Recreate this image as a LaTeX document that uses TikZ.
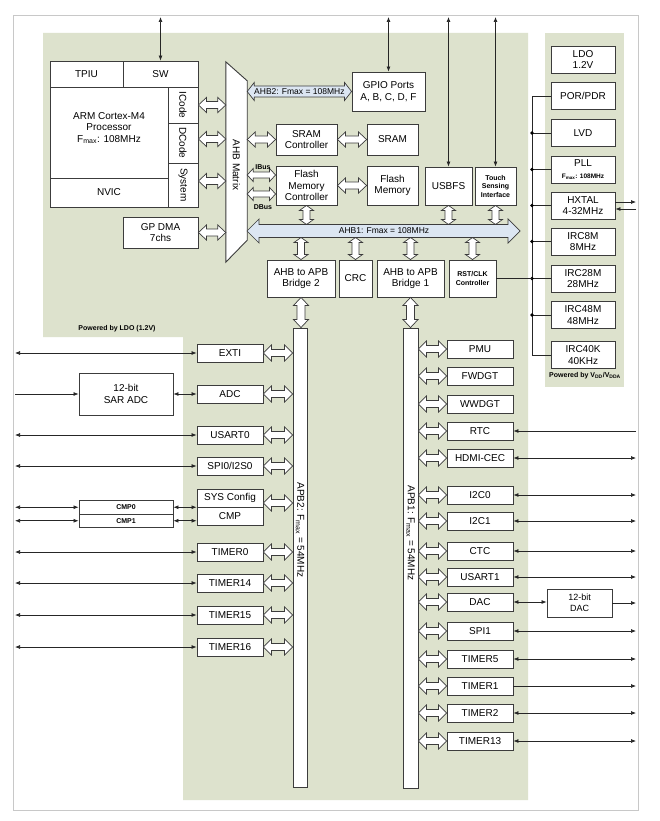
\documentclass[tikz,border=0pt]{standalone}
\usepackage{fontspec}
\setmainfont{Liberation Sans}
\usetikzlibrary{arrows.meta,calc}
\definecolor{bg}{RGB}{221,226,205}
\definecolor{busblue}{RGB}{220,230,242}
\definecolor{framegray}{RGB}{200,200,200}
\definecolor{edge}{RGB}{60,60,60}
\newcommand{\hollowH}[6][hol]{%
  \path[#1] let \p1=#2, \p2=#3 in
  (\x1,\y1) -- ({\x1+#4pt},{\y1+#5pt}) -- ({\x1+#4pt},{\y1+#6pt}) -- ({\x2-#4pt},{\y1+#6pt}) -- ({\x2-#4pt},{\y1+#5pt}) -- (\x2,\y1) -- ({\x2-#4pt},{\y1-#5pt}) -- ({\x2-#4pt},{\y1-#6pt}) -- ({\x1+#4pt},{\y1-#6pt}) -- ({\x1+#4pt},{\y1-#5pt}) -- cycle;}
\newcommand{\hollowV}[6][hol]{%
  \path[#1] let \p1=#2, \p2=#3 in
  (\x1,\y1) -- ({\x1+#5pt},{\y1-#4pt}) -- ({\x1+#6pt},{\y1-#4pt}) -- ({\x1+#6pt},{\y2+#4pt}) -- ({\x1+#5pt},{\y2+#4pt}) -- (\x1,\y2) -- ({\x1-#5pt},{\y2+#4pt}) -- ({\x1-#6pt},{\y2+#4pt}) -- ({\x1-#6pt},{\y1-#4pt}) -- ({\x1-#5pt},{\y1-#4pt}) -- cycle;}
\tikzset{
  f10/.style={font=\fontsize{10}{11.7}\selectfont},
  f9/.style={font=\fontsize{9}{10.5}\selectfont},
  f85/.style={font=\fontsize{8.5}{9.5}\selectfont},
  f75/.style={font=\fontsize{7.5}{9}\selectfont},
  fsb/.style={font=\fontsize{7}{8.5}\selectfont\bfseries},
  f7/.style={font=\fontsize{7}{8}\selectfont},
  box/.style={draw=edge, line width=0.9pt, fill=white, inner sep=0pt, align=center, f10},
  per/.style={box, minimum width=66, minimum height=18},
  cbox/.style={box, minimum width=64, minimum height=27},
  bar/.style={draw=edge, line width=0.9pt, fill=white, inner sep=0pt},
  rot/.style={rotate=-90, inner sep=0pt, f10},
  thinl/.style={draw=black!85, line width=0.7pt},
  dbl/.style={thinl, {Latex[length=5pt,width=4pt]}-{Latex[length=5pt,width=4pt]}},
  sgl/.style={thinl, -{Latex[length=5pt,width=4pt]}},
  hol/.style={draw=edge, line width=0.7pt, fill=white},
  holb/.style={draw=edge, line width=0.7pt, fill=busblue},
}
\begin{document}
\begin{tikzpicture}[x=1pt,y=-1pt]
\useasboundingbox (0,0) rectangle (659,821);
\fill[white] (0,0) rectangle (659,821);
% frame and backgrounds
\draw[framegray, line width=0.8pt] (13,15) rectangle (638,810);
\fill[bg] (43,33) -- (528,33) -- (528,800) -- (183,800) -- (183,337) -- (43,337) -- cycle;
\fill[bg] (545,33) rectangle (624,387);

% helper coordinates
\coordinate (top) at (0,17);
\coordinate (L) at (15,0);
\coordinate (R) at (636,0);
\coordinate (bus) at (532,0);
\coordinate (a1t) at (0,224.5);
\coordinate (a1b) at (0,237.5);
\coordinate (ib) at (0,175);
\coordinate (db) at (0,194);

% CPU
\node[box,minimum width=73,minimum height=26] (tpiu) at (86.5,74) {TPIU};
\node[box,minimum width=75,minimum height=26] (sw) at (160.5,74) {SW};
\node[box,minimum width=118,minimum height=91] (arm) at (109,132.5) {};
\node[f10, align=center, inner sep=0pt] (armt) at (109,128) {ARM Cortex-M4\\Processor\\F\textsubscript{max}: 108MHz};
\node[box,minimum width=118,minimum height=29] (nvic) at (109,192.5) {NVIC};
\node[box,minimum width=30,minimum height=36] (icode) at (183,105) {};
\node[box,minimum width=30,minimum height=40] (dcode) at (183,143) {};
\node[box,minimum width=30,minimum height=44] (system) at (183,185) {};
\node[rot] (icodet) at (icode) {ICode};
\node[rot] (dcodet) at (dcode) {DCode};
\node[rot] (systemt) at (system) {System};
\node[box,minimum width=75,minimum height=31] (dma) at (160.5,232.5) {GP DMA\\7chs};

% AHB matrix
\node[minimum width=21, minimum height=200, inner sep=0pt] (ahbm) at (236.5,162) {};
\draw[hol, line width=0.9pt] (ahbm.north west) -- ($(ahbm.north east)+(0,19)$) -- ($(ahbm.south east)+(0,-22)$) -- (ahbm.south west) -- cycle;
\node[rot] (ahbmt) at (236.5,165) {AHB Matrix};

\coordinate (ic) at (icode.east);
\coordinate (dc) at ([yshift=4pt]dcode.east);
\coordinate (sc) at ([yshift=4pt]system.east);
\hollowH{(ic)}{(ahbm.west |- ic)}{8}{7.5}{3.5}
\hollowH{(dc)}{(ahbm.west |- dc)}{8}{7.5}{3.5}
\hollowH{(sc)}{(ahbm.west |- sc)}{8}{7.5}{3.5}
\hollowH{(dma.east)}{(ahbm.west |- dma.east)}{8}{7.5}{3.5}

% AHB2 side
\node[box,minimum width=73,minimum height=39] (gpio) at (388.5,91.5) {GPIO Ports\\A, B, C, D, F};
\hollowH[holb]{(ahbm.east |- gpio.west)}{(gpio.west)}{7}{9}{5.5}
\node[f85, inner sep=0pt] (ahb2t) at ($(ahbm.east |- gpio.west)!0.5!(gpio.west)$) {AHB2: Fmax = 108MHz};
\node[box,minimum width=61,minimum height=31] (sramc) at (306.5,139.5) {SRAM\\Controller};
\node[box,minimum width=51,minimum height=31] (sram) at (392.5,139.5) {SRAM};
\node[box,minimum width=61,minimum height=39] (flashc) at (306.5,185.5) {Flash\\Memory\\Controller};
\node[box,minimum width=51,minimum height=39] (flash) at (392.5,185.5) {Flash\\Memory};
\node[box,minimum width=47,minimum height=38] (usb) at (448.5,186) {USBFS};
\node[box,minimum width=41,minimum height=38,fsb] (touch) at (495.5,186) {Touch\\Sensing\\Interface};
\hollowH{(ahbm.east |- sramc.west)}{(sramc.west)}{8}{7.5}{3.5}
\hollowH{(sramc.east)}{(sram.west)}{8}{7.5}{3.5}
\hollowH{(flashc.east)}{(flash.west)}{8}{7.5}{3.5}
\hollowH{(ahbm.east |- ib)}{(flashc.west |- ib)}{6}{6.5}{3}
\hollowH{(ahbm.east |- db)}{(flashc.west |- db)}{6}{6.5}{3}
\node[fsb, inner sep=0pt] (ibus) at (263,167.5) {IBus};
\node[fsb, inner sep=0pt] (dbus) at (263,207) {DBus};

\draw[dbl] (top -| sw.north) -- (sw.north);
\draw[dbl] (top -| gpio.north) -- (gpio.north);
\draw[dbl] (top -| usb.north) -- (usb.north);
\draw[dbl] (top -| touch.north) -- (touch.north);

% AHB1 bus
\node[box,minimum width=68,minimum height=37] (bridge2) at (301,278.5) {AHB to APB\\Bridge 2};
\node[box,minimum width=33,minimum height=37] (crc) at (355.5,278.5) {CRC};
\node[box,minimum width=67,minimum height=37] (bridge1) at (410.5,278.5) {AHB to APB\\Bridge 1};
\node[box,minimum width=47,minimum height=37,fsb] (rstclk) at (472.5,278.5) {RST/CLK\\Controller};
\hollowV{(flashc.south)}{(flashc.south |- a1t)}{5}{7}{3.5}
\hollowV{(usb.south)}{(usb.south |- a1t)}{5}{7}{3.5}
\hollowV{(touch.south)}{(touch.south |- a1t)}{5}{7}{3.5}
\hollowV{(bridge2.north |- a1b)}{(bridge2.north)}{5}{7}{3.5}
\hollowV{(crc.north |- a1b)}{(crc.north)}{5}{7}{3.5}
\hollowV{(bridge1.north |- a1b)}{(bridge1.north)}{5}{7}{3.5}
\hollowV{(rstclk.north |- a1b)}{(rstclk.north)}{5}{7}{3.5}
\coordinate (ahb1l) at (247,231);
\coordinate (ahb1r) at (520,231);
\hollowH[holb]{(ahb1l)}{(ahb1r)}{12}{12}{6.5}
\node[f85, inner sep=0pt] (ahb1t) at (384,231) {AHB1: Fmax = 108MHz};

% APB buses
\node[bar, minimum width=14, minimum height=459] (apb2) at (300,557.5) {};
\node[bar, minimum width=15, minimum height=460] (apb1) at (410.5,558) {};
\node[rot] (apb2t) at (300,530) {APB2: F\textsubscript{max} = 54MHz};
\node[rot] (apb1t) at (410.5,533) {APB1: F\textsubscript{max} = 54MHz};
\hollowV{(bridge2.south)}{(apb2.north)}{8}{7.5}{4}
\hollowV{(bridge1.south)}{(apb1.north)}{8}{7.5}{4}

% APB2 peripherals
\node[per] (exti) at (230,353) {EXTI};
\node[per] (adc) at (230,394) {ADC};
\node[per] (usart0) at (230,435) {USART0};
\node[per] (spi0) at (230,466) {SPI0/I2S0};
\node[per] (sysconf) at (230,498) {SYS Config};
\node[per] (cmp) at (230,516) {CMP};
\node[per] (timer0) at (230,552) {TIMER0};
\node[per] (timer14) at (230,583) {TIMER14};
\node[per] (timer15) at (230,615) {TIMER15};
\node[per] (timer16) at (230,647) {TIMER16};
\foreach \q in {exti,adc,usart0,spi0,timer0,timer14,timer15,timer16}{
  \hollowH{(\q.east)}{(apb2.west |- \q.east)}{8}{8}{3.5}
}
\coordinate (scf) at ([yshift=-5pt]sysconf.east);
\hollowH{(scf)}{(apb2.west |- scf)}{8}{8}{3.5}
\foreach \q in {exti,usart0,spi0,timer0,timer14,timer15,timer16}{
  \draw[dbl] (L |- \q.west) -- (\q.west);
}
\node[box,minimum width=94,minimum height=42] (sar) at (126,394) {12-bit\\SAR ADC};
\draw[sgl] (L |- sar.west) -- (sar.west);
\draw[dbl] (sar.east |- adc.west) -- (adc.west);
\node[box,minimum width=94,minimum height=13.5,fsb] (cmp0) at (126,507.25) {CMP0};
\node[box,minimum width=94,minimum height=13.5,fsb] (cmp1) at (126,520.75) {CMP1};
\draw[dbl] (L |- cmp0.west) -- (cmp0.west);
\draw[dbl] (L |- cmp1.west) -- (cmp1.west);
\draw[dbl] (cmp0.east) -- (cmp.west |- cmp0.east);
\draw[dbl] (cmp1.east) -- (cmp.west |- cmp1.east);

% APB1 peripherals
\node[per] (pmu) at (480,349) {PMU};
\node[per] (fwdgt) at (480,376) {FWDGT};
\node[per] (wwdgt) at (480,404) {WWDGT};
\node[per] (rtc) at (480,431) {RTC};
\node[per] (hdmi) at (480,458) {HDMI-CEC};
\node[per] (i2c0) at (480,495) {I2C0};
\node[per] (i2c1) at (480,521) {I2C1};
\node[per] (ctc) at (480,551) {CTC};
\node[per] (usart1) at (480,577) {USART1};
\node[per] (dac) at (480,602) {DAC};
\node[per] (spi1) at (480,631) {SPI1};
\node[per] (timer5) at (480,659) {TIMER5};
\node[per] (timer1) at (480,686) {TIMER1};
\node[per] (timer2) at (480,713) {TIMER2};
\node[per] (timer13) at (480,741) {TIMER13};
\foreach \q in {pmu,fwdgt,wwdgt,rtc,hdmi,i2c0,i2c1,ctc,usart1,dac,spi1,timer5,timer1,timer2,timer13}{
  \hollowH{(apb1.east |- \q.west)}{(\q.west)}{8}{8}{3.5}
}
\draw[sgl] (R |- rtc.east) -- (rtc.east);
\foreach \q in {hdmi,i2c0,i2c1,ctc,usart1,spi1,timer5,timer2,timer13}{
  \draw[dbl] (\q.east) -- (R |- \q.east);
}
\draw[sgl] (timer1.east) -- (R |- timer1.east);
\node[box,minimum width=65,minimum height=28,f9] (dacx) at (579.5,603) {12-bit\\DAC};
\draw[dbl] (dac.east) -- (dacx.west |- dac.east);
\draw[sgl] (dacx.east) -- (R |- dacx.east);

% clock / power column
\node[cbox] (ldo) at (583,59.5) {LDO\\1.2V};
\node[cbox] (por) at (583,96) {POR/PDR};
\node[cbox] (lvd) at (583,133) {LVD};
\node[cbox] (pll) at (583,169.5) {PLL\\{\fontsize{6.5}{7}\selectfont\bfseries F\textsubscript{max}: 108MHz}};
\node[cbox] (hxtal) at (583,205.5) {HXTAL\\4-32MHz};
\node[cbox] (irc8m) at (583,241.5) {IRC8M\\8MHz};
\node[cbox] (irc28m) at (583,278.5) {IRC28M\\28MHz};
\node[cbox] (irc48m) at (583,315) {IRC48M\\48MHz};
\node[cbox] (irc40k) at (583,355) {IRC40K\\40KHz};
\draw[thinl] (por.west) -- (bus |- por.west) -- (bus |- irc40k.west) -- (irc40k.west);
\foreach \q in {lvd,pll,hxtal,irc8m,irc28m,irc48m}{
  \draw[thinl] (bus |- \q.west) -- (\q.west);
  \fill[black] (bus |- \q.west) circle (1.8pt);
}
\draw[thinl] (rstclk.east) -- (bus |- rstclk.east);
\coordinate (hx1) at ([yshift=3.5pt]hxtal.east);
\coordinate (hx2) at ([yshift=-3.5pt]hxtal.east);
\draw[sgl] (hx1) -- (R |- hx1);
\draw[sgl] (R |- hx2) -- (hx2);

% power labels
\node[fsb, inner sep=0pt] (pw1) at (117,329) {Powered by LDO (1.2V)};
\node[fsb, inner sep=0pt] (pw2) at (585,376) {Powered by V\textsubscript{DD}/V\textsubscript{DDA}};
\end{tikzpicture}
\end{document}
